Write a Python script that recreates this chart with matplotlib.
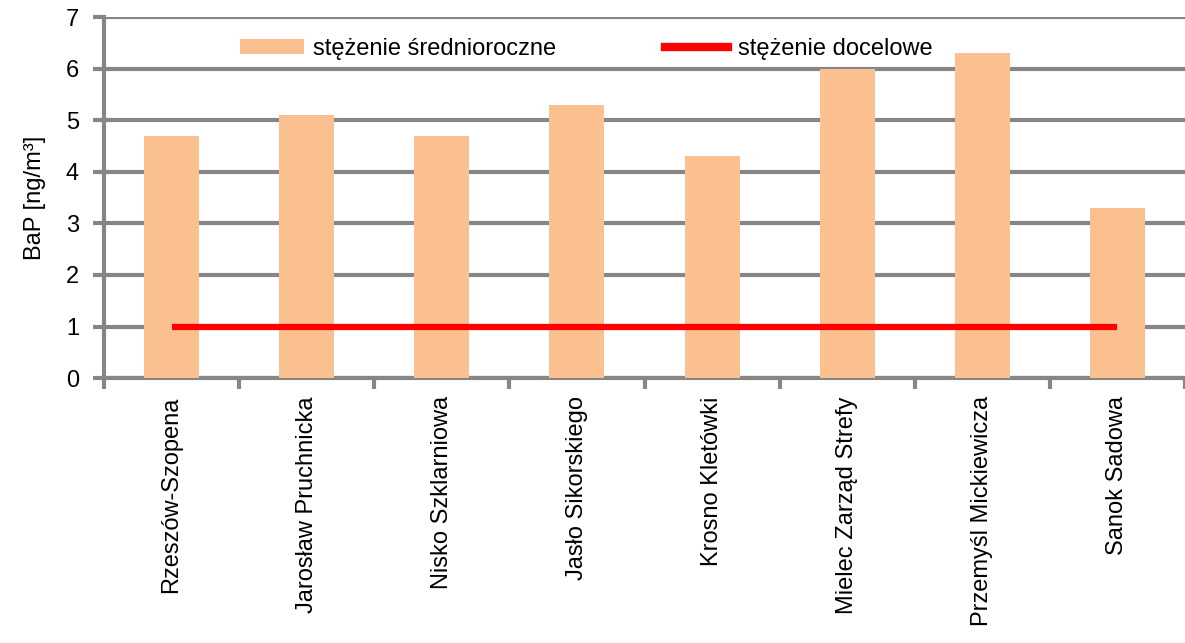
import matplotlib
matplotlib.use("Agg")
import matplotlib.pyplot as plt
import numpy as np
from matplotlib.lines import Line2D
from matplotlib.patches import Patch

plt.rcParams['font.family'] = ['Liberation Sans', 'DejaVu Sans']

stations = ["Rzeszów-Szopena", "Jarosław Pruchnicka", "Nisko Szklarniowa",
            "Jasło Sikorskiego", "Krosno Kletówki", "Mielec Zarząd Strefy",
            "Przemyśl Mickiewicza", "Sanok Sadowa"]
annual_mean = [4.7, 5.1, 4.7, 5.3, 4.3, 6.0, 6.3, 3.3]
target_value = [1.0] * len(stations)
y_ticks = [0, 1, 2, 3, 4, 5, 6, 7]

bar_color = "#FAC090"
line_color = "#FF0000"
grid_color = "#868686"
fs = 17

fig = plt.figure(figsize=(11.85, 6.43), dpi=100)
ax = fig.add_axes([0.0878, 0.412, 0.9122, 0.5615])

x = np.arange(len(stations))
ax.bar(x, annual_mean, width=0.407, color=bar_color, zorder=3)
ax.plot(x, target_value, color=line_color, lw=4.5, zorder=4, solid_capstyle='butt')

ax.set_xlim(-0.5, len(stations) - 0.5)
ax.set_ylim(0, 7)
ax.set_yticks(y_ticks)
ax.set_yticklabels([str(v) for v in y_ticks], fontsize=fs)
ax.yaxis.grid(True, color=grid_color, lw=3, zorder=1)
ax.set_axisbelow(True)

# category labels centred, separator ticks between categories
ax.set_xticks(x)
ax.set_xticklabels(stations, rotation=90, fontsize=fs, va='top', ha='center')
ax.tick_params(axis='x', length=0, pad=13)
ax.set_xticks(np.arange(-0.5, len(stations) + 0.5, 1), minor=True)
ax.tick_params(axis='x', which='minor', length=8, width=3, color=grid_color)
ax.tick_params(axis='y', length=8, width=3, color=grid_color, pad=10)

for side in ['top', 'right']:
    ax.spines[side].set_visible(False)
for side in ['left', 'bottom']:
    ax.spines[side].set_color(grid_color)
    ax.spines[side].set_linewidth(3)

ax.set_ylabel("BaP [ng/m³]", fontsize=fs, labelpad=14)

handles = [Patch(facecolor=bar_color, edgecolor='none'),
           Line2D([0], [0], color=line_color, lw=6)]
leg = ax.legend(handles, ["stężenie średnioroczne", "stężenie docelowe"],
                loc='upper center', bbox_to_anchor=(0.446, 1.0), ncol=2,
                frameon=False, fontsize=fs, handlelength=2.7, handleheight=0.6,
                columnspacing=4.6, handletextpad=0.4)

fig.savefig("out.png", dpi=100, facecolor='white')
